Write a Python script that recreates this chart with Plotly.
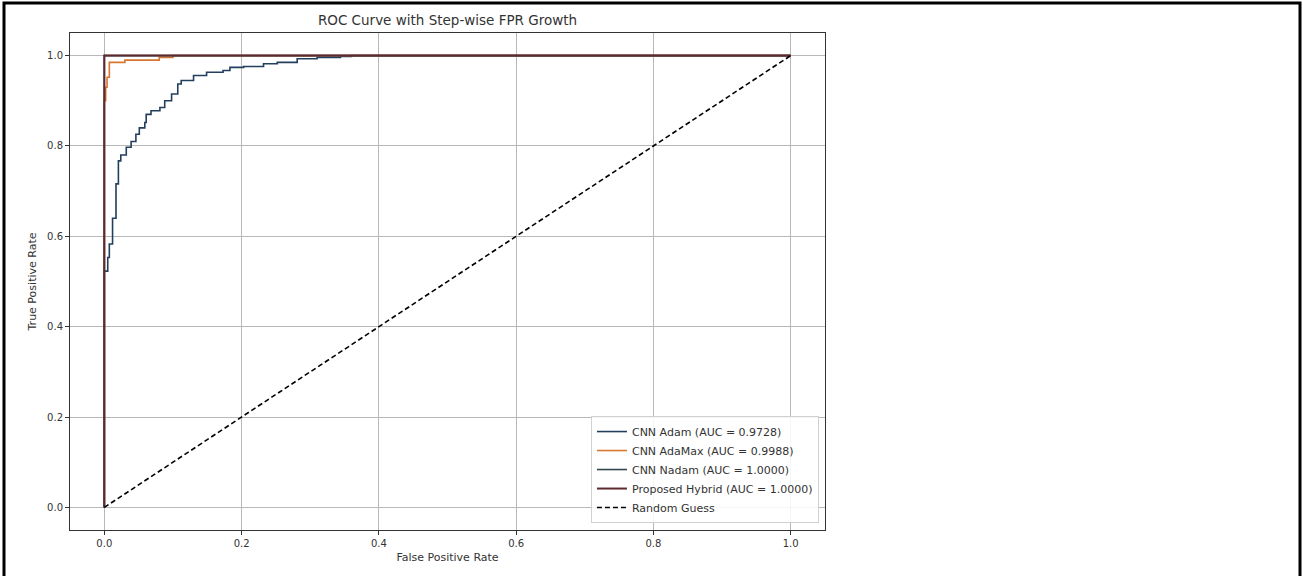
import plotly.graph_objects as go

# ---- data ----
adam_fpr = [0.0, 0.0, 0.0, 0.005, 0.0073, 0.012, 0.017, 0.0205, 0.024, 0.032, 0.039, 0.046, 0.051,
            0.059, 0.061, 0.068, 0.081, 0.088, 0.098, 0.107, 0.112, 0.13, 0.149, 0.173, 0.183,
            0.203, 0.232, 0.252, 0.281, 0.31, 0.344, 0.36, 1.0]
adam_tpr = [0.0, 0.0, 0.523, 0.553, 0.583, 0.64, 0.716, 0.767, 0.78, 0.797, 0.81, 0.826, 0.84,
            0.852, 0.87, 0.878, 0.885, 0.90, 0.915, 0.937, 0.945, 0.956, 0.963, 0.967, 0.974,
            0.976, 0.982, 0.985, 0.993, 0.996, 0.998, 1.0, 1.0]

adamax_fpr = [0.0, 0.0, 0.0, 0.002, 0.004, 0.0073, 0.03, 0.08, 0.1, 1.0]
adamax_tpr = [0.0, 0.863, 0.90, 0.93, 0.952, 0.985, 0.99, 0.996, 1.0, 1.0]

nadam_fpr = [0.0, 0.0, 1.0]
nadam_tpr = [0.0, 1.0, 1.0]

hybrid_fpr = [0.0, 0.0, 1.0]
hybrid_tpr = [0.0, 1.0, 1.0]

random_fpr = [0.0, 1.0]
random_tpr = [0.0, 1.0]

names = ["CNN Adam (AUC = 0.9728)", "CNN AdaMax (AUC = 0.9988)",
         "CNN Nadam (AUC = 1.0000)", "Proposed Hybrid (AUC = 1.0000)", "Random Guess"]
x_ticks = [0.0, 0.2, 0.4, 0.6, 0.8, 1.0]
y_ticks = [0.0, 0.2, 0.4, 0.6, 0.8, 1.0]

FONT = "DejaVu Sans"
W, H = 1303, 576
L, R, T, B = 70, 478, 33, 46
PW, PH = W - L - R, H - T - B

fig = go.Figure()
fig.add_trace(go.Scatter(x=adam_fpr, y=adam_tpr, mode="lines", name=names[0],
                         line=dict(color="#233f5e", width=1.6, shape="hv")))
fig.add_trace(go.Scatter(x=adamax_fpr, y=adamax_tpr, mode="lines", name=names[1],
                         line=dict(color="#d9772f", width=1.6, shape="hv")))
fig.add_trace(go.Scatter(x=nadam_fpr, y=nadam_tpr, mode="lines", name=names[2],
                         line=dict(color="#34464f", width=1.6)))
fig.add_trace(go.Scatter(x=hybrid_fpr, y=hybrid_tpr, mode="lines", name=names[3],
                         line=dict(color="#5e2a30", width=2)))
fig.add_trace(go.Scatter(x=random_fpr, y=random_tpr, mode="lines", name=names[4],
                         line=dict(color="black", width=1.6, dash="5px,3px")))

axis_common = dict(
    showgrid=True, gridcolor="#b8b8b8", gridwidth=1,
    zeroline=False, showline=True, linecolor="#333333", linewidth=1, mirror=True,
    ticks="outside", ticklen=4, tickcolor="#333333",
    tickfont=dict(family=FONT, size=10, color="#333333"),
)

fig.update_layout(
    width=W, height=H,
    margin=dict(l=L, r=R, t=T, b=B),
    paper_bgcolor="white", plot_bgcolor="white",
    font=dict(family=FONT, color="#333333"),
    title=dict(text="ROC Curve with Step-wise FPR Growth", x=(L + PW / 2) / W, xanchor="center",
               y=1 - 20 / H, yanchor="middle", yref="container",
               font=dict(family=FONT, size=13.5, color="#333333")),
    xaxis=dict(range=[-0.05, 1.05], tickvals=x_ticks, ticktext=[f"{v:.1f}" for v in x_ticks],
               title=dict(text="False Positive Rate", font=dict(family=FONT, size=11), standoff=5),
               **axis_common),
    yaxis=dict(range=[-0.05, 1.05], tickvals=y_ticks, ticktext=[f"{v:.1f}" for v in y_ticks],
               title=dict(text="True Positive Rate", font=dict(family=FONT, size=11), standoff=8),
               **axis_common),
    legend=dict(x=0.992, y=0.014, xanchor="right", yanchor="bottom",
                bgcolor="rgba(255,255,255,0.85)", bordercolor="#d0d0d0", borderwidth=1,
                font=dict(family=FONT, size=11, color="#333333"),
                tracegroupgap=0, itemwidth=30),
    showlegend=True,
)

# outer frame around the picture
fig.add_shape(type="rect", xref="paper", yref="paper",
              x0=(4 - L) / PW, x1=(1300 - L) / PW,
              y0=-(580 - T - PH) / PH, y1=(PH + T - 3) / PH,
              line=dict(color="black", width=3), fillcolor="rgba(0,0,0,0)", layer="above")

fig.write_html("out.html", config={"displayModeBar": False},
               post_script="document.body.style.margin='0';")
